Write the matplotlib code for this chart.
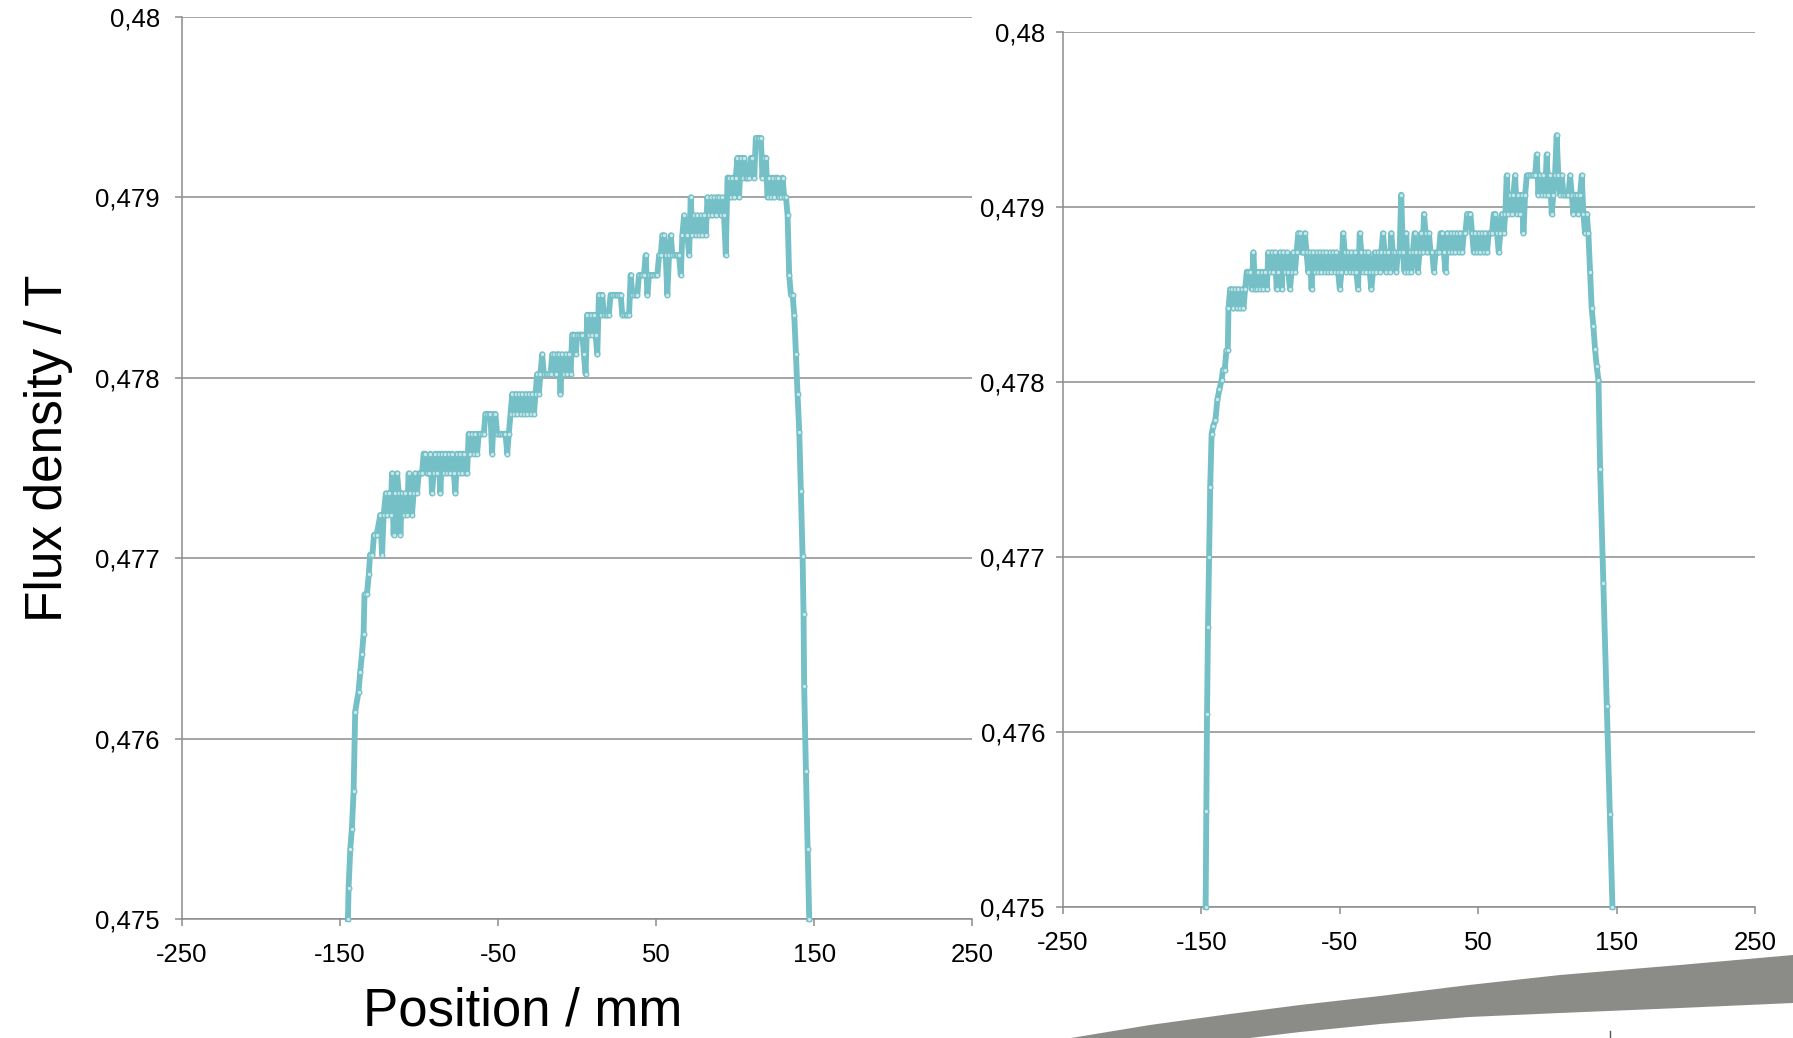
import matplotlib
matplotlib.use('Agg')
import matplotlib.pyplot as plt
from matplotlib.ticker import FuncFormatter
from matplotlib.patches import Polygon
from matplotlib.lines import Line2D

plt.rcParams['font.family'] = ['Liberation Sans', 'DejaVu Sans']
plt.rcParams['axes.unicode_minus'] = False

# left panel: position (mm) and flux density (T)
left_pos = [
    -145.0, -144.6, -143.5, -142.5, -141.4, -140.4, -138.3, -137.2, -136.1, -135.1,
    -134.5, -133.0, -131.8, -131.0, -129.5, -128.5, -126.8, -124.5, -123.4, -122.4,
    -121.0, -120.0, -119.0, -118.0, -117.1, -116.1, -115.0, -113.9, -112.8, -111.8,
    -110.8, -109.7, -108.6, -107.6, -106.6, -105.5, -104.5, -103.4, -102.4, -101.3,
    -100.2, -99.2, -98.1, -97.1, -96.0, -95.0, -93.9, -92.8, -91.8, -90.7,
    -89.7, -88.6, -87.6, -86.5, -85.5, -84.4, -83.4, -82.3, -81.2, -80.2,
    -79.1, -78.0, -77.0, -76.0, -74.9, -73.8, -72.8, -71.7, -70.6, -69.6,
    -68.6, -67.5, -66.5, -65.4, -64.3, -63.3, -62.2, -61.2, -60.1, -59.0,
    -58.0, -56.9, -55.9, -54.8, -53.8, -52.7, -51.7, -50.6, -49.5, -48.5,
    -47.4, -46.4, -45.3, -44.2, -43.2, -42.1, -41.0, -40.0, -38.9, -37.9,
    -36.8, -35.8, -34.7, -33.6, -32.6, -31.5, -30.5, -29.4, -28.4, -27.3,
    -26.3, -25.3, -24.2, -23.2, -22.1, -21.0, -19.9, -18.9, -17.8, -16.8,
    -15.7, -14.7, -13.6, -12.6, -11.5, -10.5, -9.4, -8.4, -7.3, -6.3,
    -5.2, -4.1, -3.1, -2.0, -0.9, 0.1, 1.2, 2.2, 3.3, 4.3,
    5.4, 6.4, 7.5, 8.6, 9.6, 10.7, 11.7, 12.8, 13.8, 14.9,
    15.9, 17.0, 18.0, 19.1, 20.1, 21.2, 22.2, 23.3, 24.4, 25.4,
    26.5, 27.6, 28.6, 29.7, 30.7, 31.8, 32.9, 33.9, 35.0, 36.0,
    37.1, 38.1, 39.2, 40.2, 41.3, 42.3, 43.4, 44.5, 45.5, 46.6,
    47.6, 48.7, 49.7, 50.8, 51.9, 52.9, 54.0, 55.0, 56.1, 57.1,
    58.2, 59.3, 60.3, 61.4, 62.4, 63.5, 64.5, 65.6, 66.6, 67.7,
    68.8, 69.8, 70.9, 71.9, 73.0, 74.0, 75.1, 76.2, 77.2, 78.3,
    79.3, 80.4, 81.4, 82.5, 83.5, 84.6, 85.6, 86.7, 87.8, 88.8,
    89.9, 90.9, 92.0, 93.0, 94.1, 95.2, 96.2, 97.3, 98.3, 99.4,
    100.4, 101.5, 102.5, 103.6, 104.7, 105.7, 106.8, 107.8, 108.9, 110.0,
    111.0, 112.1, 113.1, 114.2, 115.2, 116.3, 117.3, 118.4, 119.5, 120.5,
    121.6, 122.6, 123.7, 124.8, 125.8, 126.9, 127.9, 129.0, 130.0, 131.1,
    132.2, 133.2, 134.2, 135.3, 136.4, 137.4, 138.5, 139.5, 140.6, 141.6,
    142.7, 143.3, 143.7, 144.8, 145.9, 146.9,
]
left_flux = [
    0.47500, 0.47517, 0.47539, 0.47550, 0.47571, 0.47615, 0.47626, 0.47637, 0.47647, 0.47658,
    0.47680, 0.47680, 0.47691, 0.47702, 0.47702, 0.47713, 0.47713, 0.47724, 0.47702, 0.47724,
    0.47736, 0.47724, 0.47736, 0.47724, 0.47747, 0.47713, 0.47736, 0.47747, 0.47736, 0.47713,
    0.47736, 0.47724, 0.47736, 0.47724, 0.47747, 0.47736, 0.47724, 0.47736, 0.47747, 0.47736,
    0.47747, 0.47747, 0.47747, 0.47758, 0.47758, 0.47747, 0.47747, 0.47758, 0.47736, 0.47747,
    0.47758, 0.47747, 0.47758, 0.47736, 0.47758, 0.47747, 0.47758, 0.47747, 0.47758, 0.47747,
    0.47758, 0.47747, 0.47736, 0.47758, 0.47747, 0.47758, 0.47747, 0.47758, 0.47747, 0.47747,
    0.47769, 0.47758, 0.47769, 0.47758, 0.47769, 0.47758, 0.47769, 0.47769, 0.47769, 0.47769,
    0.47780, 0.47780, 0.47780, 0.47780, 0.47758, 0.47780, 0.47780, 0.47769, 0.47769, 0.47769,
    0.47769, 0.47769, 0.47769, 0.47758, 0.47769, 0.47780, 0.47791, 0.47780, 0.47791, 0.47780,
    0.47791, 0.47780, 0.47791, 0.47780, 0.47791, 0.47780, 0.47791, 0.47780, 0.47791, 0.47780,
    0.47791, 0.47802, 0.47791, 0.47802, 0.47813, 0.47802, 0.47802, 0.47802, 0.47802, 0.47802,
    0.47813, 0.47813, 0.47802, 0.47813, 0.47813, 0.47791, 0.47813, 0.47802, 0.47813, 0.47802,
    0.47813, 0.47802, 0.47824, 0.47824, 0.47813, 0.47824, 0.47824, 0.47824, 0.47824, 0.47813,
    0.47802, 0.47835, 0.47824, 0.47835, 0.47824, 0.47835, 0.47824, 0.47813, 0.47846, 0.47835,
    0.47846, 0.47835, 0.47835, 0.47835, 0.47835, 0.47846, 0.47846, 0.47846, 0.47846, 0.47846,
    0.47846, 0.47846, 0.47835, 0.47835, 0.47835, 0.47835, 0.47835, 0.47857, 0.47846, 0.47846,
    0.47846, 0.47846, 0.47857, 0.47857, 0.47857, 0.47857, 0.47868, 0.47846, 0.47857, 0.47857,
    0.47857, 0.47857, 0.47857, 0.47857, 0.47868, 0.47868, 0.47879, 0.47879, 0.47868, 0.47846,
    0.47868, 0.47879, 0.47868, 0.47868, 0.47868, 0.47868, 0.47868, 0.47857, 0.47879, 0.47890,
    0.47879, 0.47879, 0.47868, 0.47900, 0.47879, 0.47890, 0.47879, 0.47890, 0.47879, 0.47890,
    0.47879, 0.47890, 0.47879, 0.47900, 0.47890, 0.47900, 0.47890, 0.47900, 0.47890, 0.47900,
    0.47900, 0.47890, 0.47900, 0.47890, 0.47868, 0.47911, 0.47911, 0.47900, 0.47911, 0.47900,
    0.47911, 0.47922, 0.47900, 0.47922, 0.47911, 0.47922, 0.47911, 0.47911, 0.47911, 0.47922,
    0.47922, 0.47911, 0.47933, 0.47933, 0.47933, 0.47933, 0.47911, 0.47922, 0.47922, 0.47900,
    0.47911, 0.47900, 0.47911, 0.47900, 0.47911, 0.47911, 0.47900, 0.47900, 0.47911, 0.47900,
    0.47900, 0.47890, 0.47857, 0.47846, 0.47846, 0.47835, 0.47813, 0.47791, 0.47770, 0.47737,
    0.47701, 0.47669, 0.47629, 0.47582, 0.47539, 0.47500,
]

# right panel: position (mm) and flux density (T)
right_pos = [
    -147.0, -146.5, -146.0, -145.3, -144.5, -143.7, -142.7, -141.5, -140.0, -138.5,
    -137.0, -135.5, -134.5, -133.2, -132.0, -131.0, -130.5, -129.3, -128.1, -126.9,
    -125.7, -124.5, -123.3, -122.1, -120.9, -119.7, -118.5, -117.3, -116.1, -114.9,
    -113.7, -112.5, -111.3, -110.1, -108.9, -107.7, -106.5, -105.3, -104.1, -102.9,
    -101.7, -100.5, -99.3, -98.1, -96.9, -95.7, -94.5, -93.3, -92.1, -90.9,
    -89.7, -88.5, -87.3, -86.1, -84.9, -83.7, -82.5, -81.3, -80.1, -78.9,
    -77.7, -76.5, -75.3, -74.1, -72.9, -71.7, -70.5, -69.3, -68.1, -66.9,
    -65.7, -64.5, -63.3, -62.1, -60.9, -59.7, -58.5, -57.3, -56.1, -54.9,
    -53.7, -52.5, -51.3, -50.1, -48.9, -47.7, -46.5, -45.3, -44.1, -42.9,
    -41.7, -40.5, -39.3, -38.1, -36.9, -35.7, -34.5, -33.3, -32.1, -30.9,
    -29.7, -28.5, -27.3, -26.1, -24.9, -23.7, -22.5, -21.3, -20.1, -18.9,
    -17.7, -16.5, -15.3, -14.1, -12.9, -11.7, -10.5, -9.3, -8.1, -6.9,
    -5.7, -4.5, -3.3, -2.1, -0.9, 0.3, 1.5, 2.7, 3.9, 5.1,
    6.3, 7.5, 8.7, 9.9, 10.7, 11.9, 13.1, 14.3, 15.5, 16.7,
    17.9, 19.1, 20.3, 21.5, 22.7, 23.9, 25.1, 26.3, 27.5, 28.7,
    29.9, 31.1, 32.3, 33.5, 34.7, 35.9, 37.1, 38.3, 39.5, 40.7,
    41.9, 43.1, 44.3, 45.5, 46.7, 47.9, 49.1, 50.3, 51.5, 52.7,
    53.9, 55.1, 56.3, 57.5, 58.7, 59.9, 61.1, 62.3, 63.5, 64.7,
    65.9, 67.1, 68.3, 69.5, 70.5, 71.7, 72.9, 74.1, 75.3, 76.6,
    77.8, 79.0, 80.2, 81.4, 82.6, 83.8, 85.0, 86.2, 87.4, 88.6,
    89.8, 91.0, 92.2, 93.4, 94.6, 95.8, 97.0, 98.2, 99.4, 100.6,
    101.8, 103.0, 104.2, 105.4, 106.6, 107.8, 109.1, 110.3, 111.5, 112.7,
    113.9, 115.1, 116.3, 117.5, 118.7, 119.9, 121.1, 122.3, 123.5, 124.7,
    125.9, 127.1, 128.3, 129.5, 130.7, 131.9, 133.1, 134.3, 135.5, 136.8,
    138.0, 140.3, 142.8, 145.0, 146.9,
]
right_flux = [
    0.47500, 0.47555, 0.47610, 0.47660, 0.47700, 0.47740, 0.47770, 0.47775, 0.47778, 0.47790,
    0.47796, 0.47801, 0.47807, 0.47807, 0.47818, 0.47818, 0.47842, 0.47853, 0.47853, 0.47842,
    0.47853, 0.47842, 0.47853, 0.47842, 0.47853, 0.47842, 0.47853, 0.47863, 0.47863, 0.47863,
    0.47853, 0.47874, 0.47853, 0.47853, 0.47863, 0.47853, 0.47863, 0.47853, 0.47863, 0.47853,
    0.47874, 0.47863, 0.47874, 0.47863, 0.47874, 0.47853, 0.47863, 0.47874, 0.47853, 0.47874,
    0.47863, 0.47874, 0.47863, 0.47853, 0.47863, 0.47874, 0.47863, 0.47874, 0.47885, 0.47885,
    0.47874, 0.47874, 0.47885, 0.47874, 0.47863, 0.47874, 0.47853, 0.47874, 0.47863, 0.47874,
    0.47863, 0.47874, 0.47863, 0.47874, 0.47863, 0.47874, 0.47863, 0.47874, 0.47863, 0.47874,
    0.47863, 0.47874, 0.47863, 0.47853, 0.47863, 0.47885, 0.47874, 0.47863, 0.47874, 0.47863,
    0.47874, 0.47863, 0.47874, 0.47863, 0.47853, 0.47885, 0.47874, 0.47863, 0.47874, 0.47863,
    0.47874, 0.47863, 0.47853, 0.47863, 0.47874, 0.47863, 0.47874, 0.47863, 0.47874, 0.47885,
    0.47874, 0.47863, 0.47874, 0.47863, 0.47885, 0.47874, 0.47874, 0.47863, 0.47874, 0.47874,
    0.47907, 0.47874, 0.47863, 0.47885, 0.47863, 0.47874, 0.47863, 0.47874, 0.47885, 0.47874,
    0.47863, 0.47874, 0.47885, 0.47874, 0.47896, 0.47885, 0.47874, 0.47885, 0.47874, 0.47874,
    0.47863, 0.47874, 0.47874, 0.47874, 0.47885, 0.47885, 0.47874, 0.47863, 0.47885, 0.47874,
    0.47885, 0.47874, 0.47885, 0.47874, 0.47885, 0.47874, 0.47885, 0.47874, 0.47885, 0.47885,
    0.47896, 0.47896, 0.47896, 0.47885, 0.47874, 0.47885, 0.47874, 0.47885, 0.47874, 0.47885,
    0.47874, 0.47885, 0.47874, 0.47885, 0.47885, 0.47885, 0.47896, 0.47896, 0.47885, 0.47874,
    0.47885, 0.47896, 0.47885, 0.47896, 0.47918, 0.47896, 0.47907, 0.47896, 0.47907, 0.47918,
    0.47896, 0.47907, 0.47896, 0.47907, 0.47885, 0.47907, 0.47918, 0.47918, 0.47918, 0.47918,
    0.47918, 0.47918, 0.47930, 0.47907, 0.47918, 0.47907, 0.47918, 0.47907, 0.47930, 0.47907,
    0.47918, 0.47896, 0.47907, 0.47918, 0.47941, 0.47918, 0.47907, 0.47918, 0.47907, 0.47907,
    0.47907, 0.47907, 0.47918, 0.47907, 0.47896, 0.47907, 0.47907, 0.47896, 0.47907, 0.47918,
    0.47896, 0.47885, 0.47896, 0.47885, 0.47863, 0.47842, 0.47832, 0.47819, 0.47809, 0.47801,
    0.47750, 0.47685, 0.47615, 0.47553, 0.47500,
]

x_ticks = [-250, -150, -50, 50, 150, 250]
y_ticks = [0.475, 0.476, 0.477, 0.478, 0.479, 0.48]

line_color = '#74c0c6'
grid_color = '#8c8c8c'


def comma_fmt(v, pos):
    return ('%.3f' % v).rstrip('0').replace('.', ',')


def style_axes(ax, pad_y):
    ax.set_xlim(-250, 250)
    ax.set_ylim(0.475, 0.48)
    ax.set_xticks(x_ticks)
    ax.set_yticks(y_ticks)
    ax.yaxis.set_major_formatter(FuncFormatter(comma_fmt))
    ax.grid(axis='y', color=grid_color, lw=1.1)
    ax.set_axisbelow(True)
    for s in ['top', 'right']:
        ax.spines[s].set_visible(False)
    for s in ['left', 'bottom']:
        ax.spines[s].set_color(grid_color)
        ax.spines[s].set_linewidth(1.1)
    ax.tick_params(axis='both', direction='out', length=5, width=1.1, color=grid_color,
                   labelsize=18.5)
    ax.tick_params(axis='y', pad=pad_y)
    ax.tick_params(axis='x', pad=12)


def draw_profile(ax, pos, flux):
    ax.plot(pos, flux, color=line_color, lw=4.2, marker='o', ms=3.4,
            mfc='#c9e8eb', mec=line_color, mew=0.9, clip_on=False, zorder=3)


fig = plt.figure(figsize=(17.93, 10.38), dpi=100)

ax1 = fig.add_axes([0.1015, 0.1146, 0.4407, 0.869])
draw_profile(ax1, left_pos, left_flux)
style_axes(ax1, 11)

ax2 = fig.add_axes([0.5929, 0.1262, 0.386, 0.843])
draw_profile(ax2, right_pos, right_flux)
style_axes(ax2, 8)

fig.text(523 / 1793, 1 - 1011 / 1038, 'Position / mm', fontsize=38,
         ha='center', va='center')
fig.text(49 / 1793, 1 - 448 / 1038, 'Flux density / T', fontsize=37,
         rotation=90, ha='center', va='center')

# grey decorative band at the bottom right (pixel outline of the slide graphic)
W, H = 1793.0, 1038.0
band = [(1071, 1038), (1150, 1025), (1230, 1014), (1300, 1005), (1380, 996),
        (1469, 985), (1560, 975), (1680, 965), (1793, 955),
        (1793, 1003), (1680, 1008), (1560, 1013), (1469, 1017), (1380, 1024),
        (1300, 1032), (1250, 1038)]
fig.patches.append(Polygon([(x / W, 1 - y / H) for x, y in band], closed=True,
                           transform=fig.transFigure, facecolor='#8b8b87',
                           edgecolor='none'))
fig.lines.append(Line2D([1610 / W, 1610 / W], [1 - 1038 / H, 1 - 1031 / H],
                        transform=fig.transFigure, color='#555555', lw=1))

fig.savefig('out.png', dpi=100)
